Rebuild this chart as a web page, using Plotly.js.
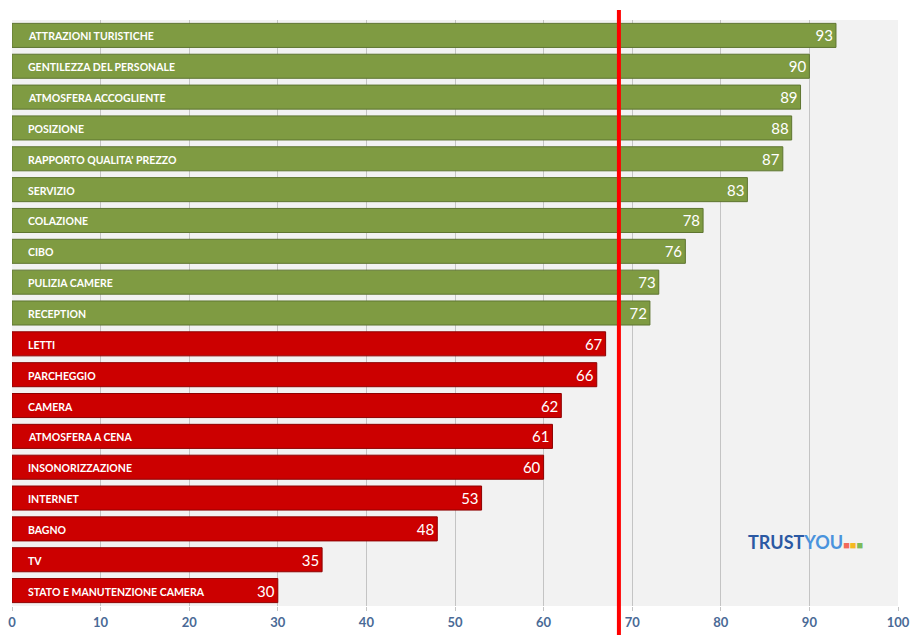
<!DOCTYPE html>
<html><head><meta charset="utf-8">
<script src="https://cdn.plot.ly/plotly-3.0.1.min.js"></script>
<style>html,body{margin:0;padding:0;background:#fff}#chart{width:911px;height:635px}</style>
</head><body><div id="chart"></div>
<script>
const categories = ["ATTRAZIONI TURISTICHE","GENTILEZZA DEL PERSONALE","ATMOSFERA ACCOGLIENTE","POSIZIONE","RAPPORTO QUALITA' PREZZO","SERVIZIO","COLAZIONE","CIBO","PULIZIA CAMERE","RECEPTION","LETTI","PARCHEGGIO","CAMERA","ATMOSFERA A CENA","INSONORIZZAZIONE","INTERNET","BAGNO","TV","STATO E MANUTENZIONE CAMERA"];
const values = [93,90,89,88,87,83,78,76,73,72,67,66,62,61,60,53,48,35,30];
const threshold = 68.5;
const xTicks = [0,10,20,30,40,50,60,70,80,90,100];

const colors = values.map(v => v >= threshold ? '#7f9b42' : '#cc0000');
const lineColors = values.map(v => v >= threshold ? '#5e7530' : '#8e0000');

const trace = {
  type: 'bar', orientation: 'h',
  x: values, y: categories,
  marker: {color: colors, line: {color: lineColors, width: 1}},
  width: 0.78,
  text: values.map(String),
  textposition: 'inside', insidetextanchor: 'end',
  textfont: {family: 'Lato, Open Sans, sans-serif', size: 15, color: '#ffffff'},
  hoverinfo: 'skip', cliponaxis: false
};

const annotations = categories.map(c => ({
  x: 0, y: c, xref: 'x', yref: 'y', text: '<b>' + c + '</b>',
  showarrow: false, xanchor: 'left', xshift: 14, yshift: -1,
  font: {family: 'Lato, Open Sans, sans-serif', size: 10.5, color: '#ffffff'}
}));
annotations.push({
  xref: 'paper', yref: 'paper', x: 0.896, y: 0.109, xanchor: 'center', yanchor: 'middle',
  showarrow: false,
  text: '<b><span style="color:#2b59a3">TRUST</span><span style="color:#4a93dd">YOU</span></b><span style="color:#f26b5b;font-size:11px">■</span><span style="color:#f5b921;font-size:11px">■</span><span style="color:#7cbb5a;font-size:11px">■</span>',
  font: {family: 'Lato, Open Sans, sans-serif', size: 18}
});

const layout = {
  width: 911, height: 635,
  margin: {l: 12, r: 13, t: 20, b: 29},
  paper_bgcolor: '#ffffff', plot_bgcolor: '#f2f2f2',
  showlegend: false, bargap: 0.22,
  xaxis: {
    range: [0, 100], tickvals: xTicks, ticktext: xTicks.map(String),
    showgrid: true, gridcolor: '#c4c4c4', gridwidth: 1, zeroline: false,
    ticks: 'outside', ticklen: 4, tickcolor: '#c4c4c4',
    tickfont: {family: 'Lato, Open Sans, sans-serif', size: 13, color: '#4a6a96', weight: 'bold'},
    fixedrange: true, showline: false
  },
  yaxis: {
    autorange: 'reversed', showticklabels: false, showgrid: false, zeroline: false, fixedrange: true
  },
  shapes: [{
    type: 'line', xref: 'x', yref: 'paper', x0: threshold, x1: threshold, y0: -0.05, y1: 1.017,
    line: {color: '#ff0000', width: 4}
  }],
  annotations: annotations
};

Plotly.newPlot('chart', [trace], layout, {displayModeBar: false, staticPlot: true});
</script></body></html>
